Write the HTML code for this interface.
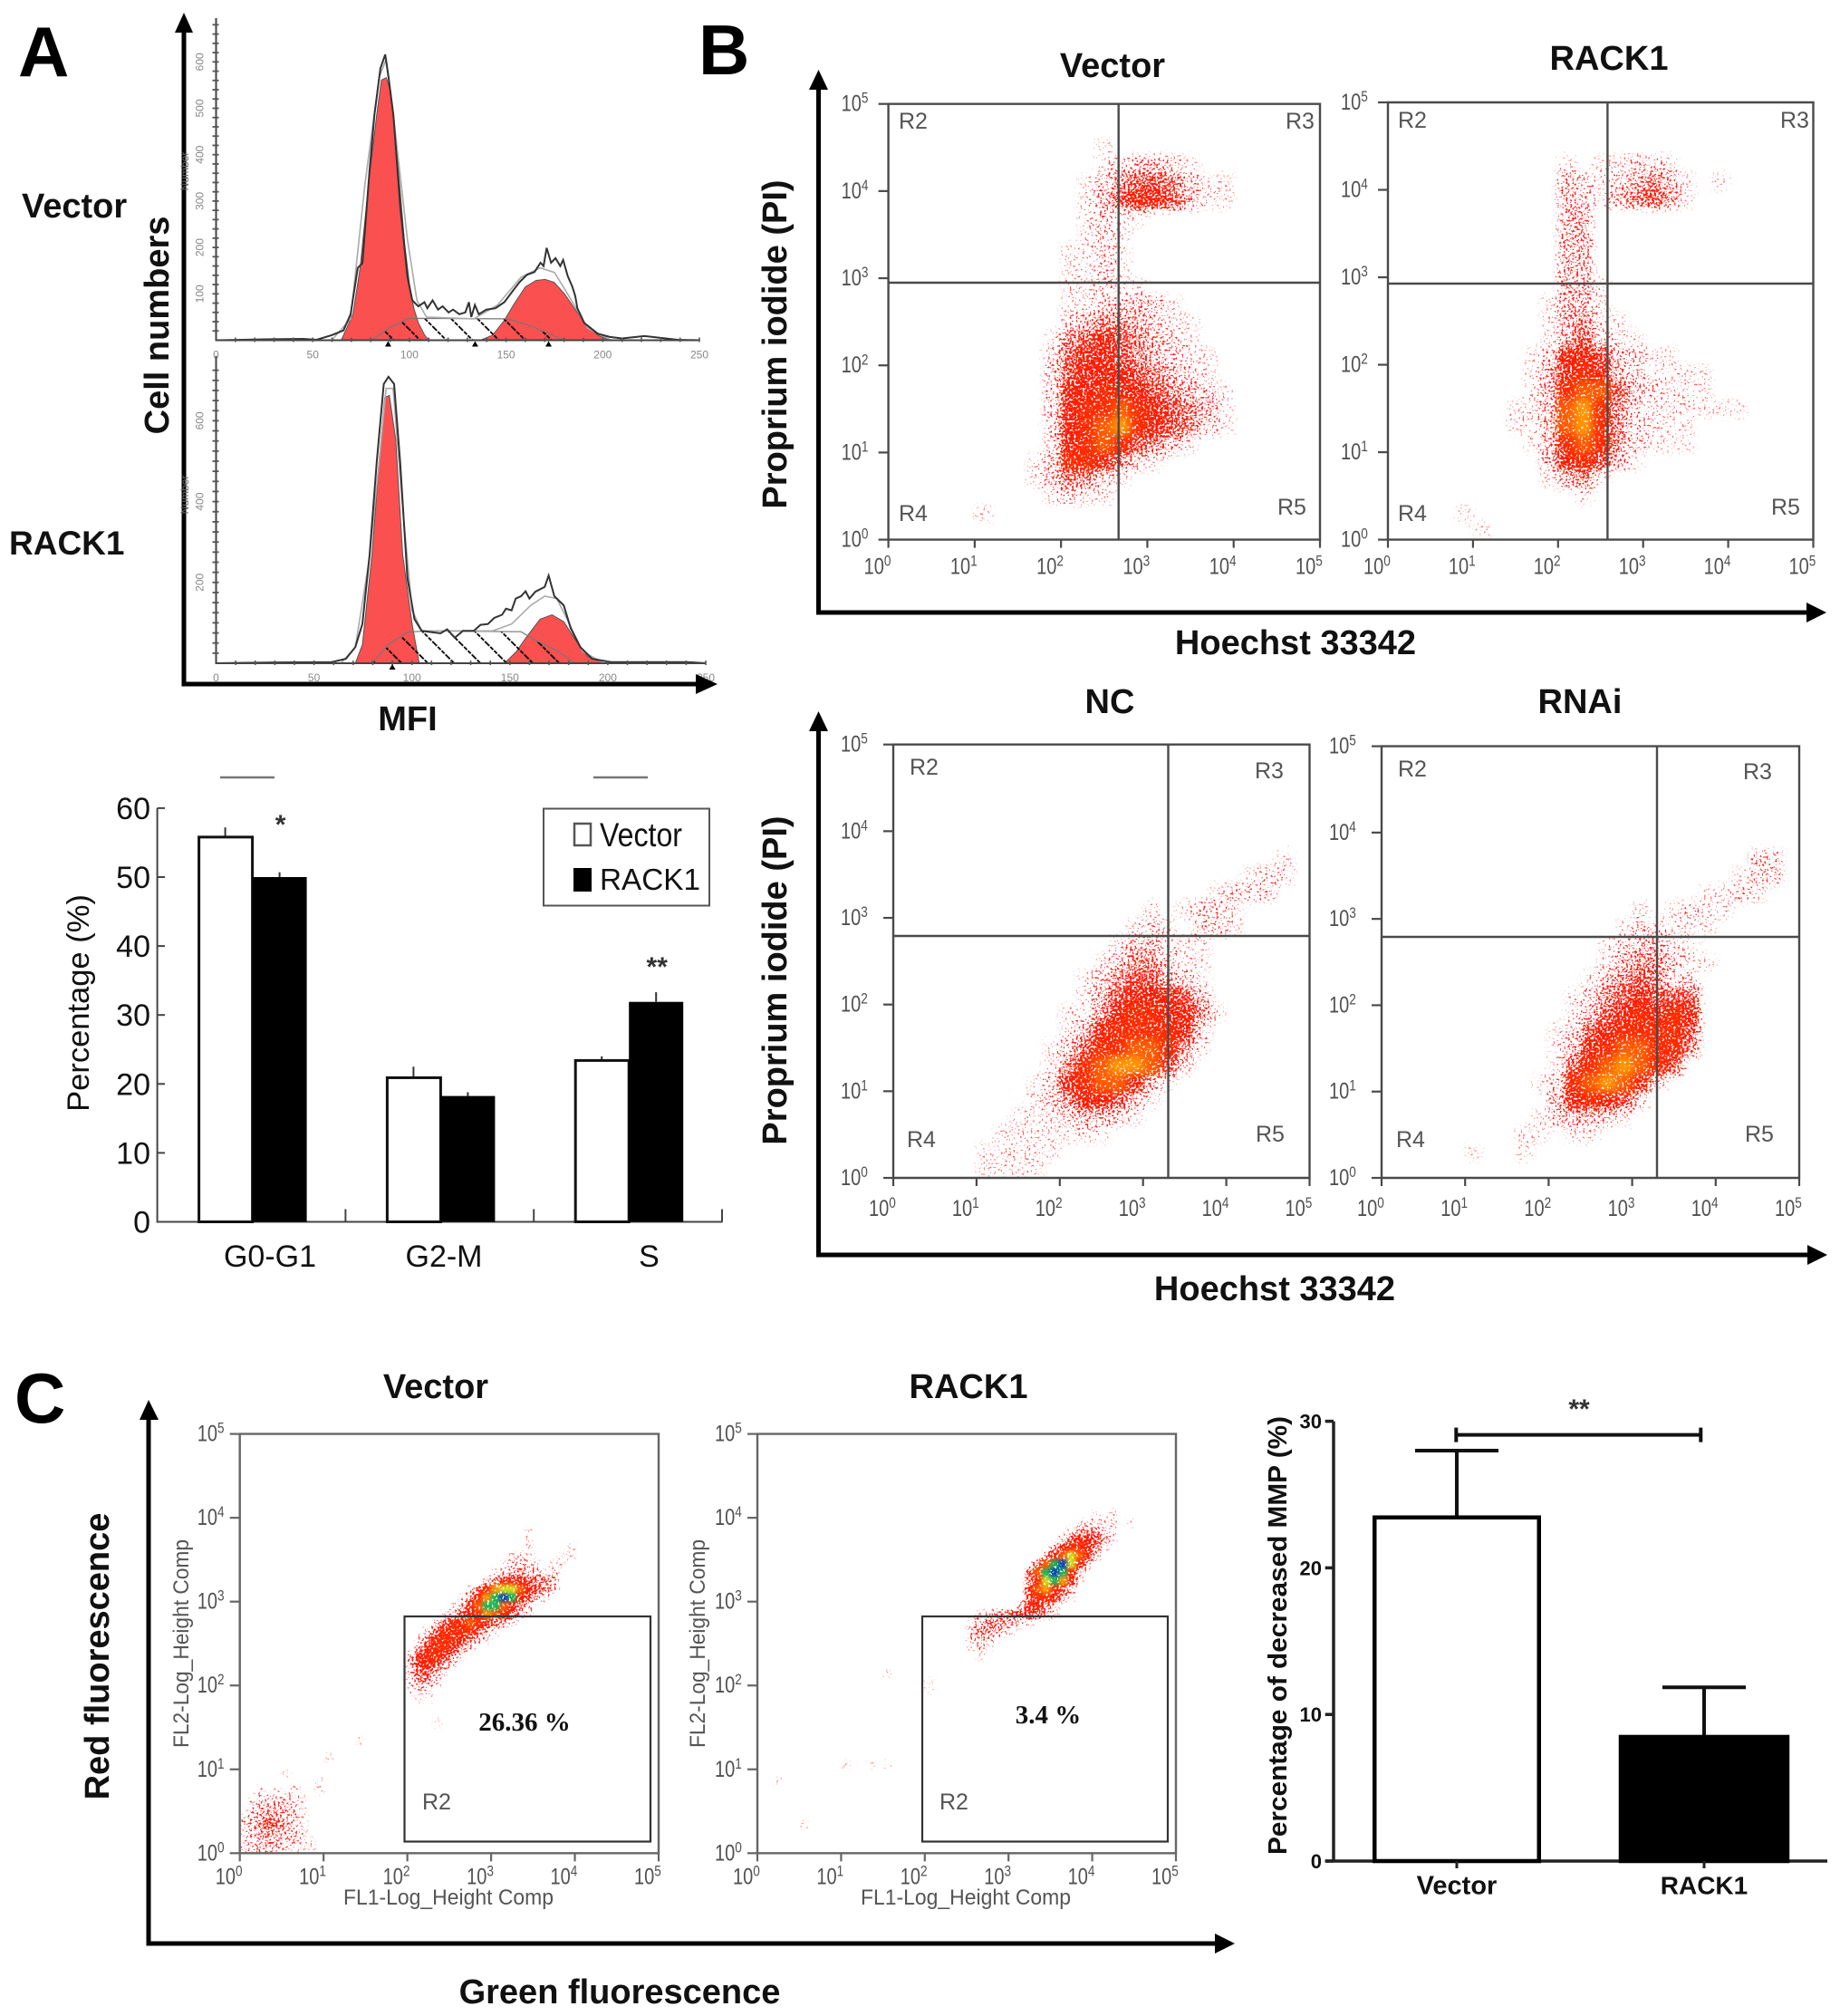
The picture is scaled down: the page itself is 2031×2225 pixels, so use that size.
<!DOCTYPE html>
<html lang="en">
<head>
<meta charset="utf-8">
<title>RACK1 cell cycle, apoptosis and MMP figure</title>
<style>
html,body{margin:0;padding:0;background:#fff}
svg{display:block}
text{font-family:"Liberation Sans",sans-serif;fill:#111}
.bold{font-weight:700}
.head{font-weight:700;font-size:38px}
.panel{font-weight:700;font-size:78px;fill:#000}
.gate{font-size:25px;fill:#555}
.plotline{stroke:#4a4a4a;stroke-width:2.4;fill:none}
.arrow{stroke:#000;stroke-width:5;fill:none}
</style>
</head>
<body>
<svg id="figure" xmlns="http://www.w3.org/2000/svg" width="2031" height="2225" viewBox="0 0 2031 2225">
<defs>
  <pattern id="hatch" width="20.5" height="20.5" patternUnits="userSpaceOnUse" patternTransform="rotate(-45)">
    <line x1="0" y1="0" x2="0" y2="20.5" stroke="#000" stroke-width="3.6" stroke-dasharray="4.5 1.5"/>
  </pattern>
  <filter id="stippleB" x="-15%" y="-15%" width="130%" height="130%" color-interpolation-filters="sRGB">
    <feGaussianBlur in="SourceGraphic" stdDeviation="4.5" result="b"/>
    <feTurbulence type="fractalNoise" baseFrequency="0.42" numOctaves="2" seed="4" result="t"/>
    <feColorMatrix in="t" type="matrix" values="0 0 0 0 1 0 0 0 0 1 0 0 0 0 1 2.6 0 0 0 -0.8" result="na"/>
    <feComposite in="b" in2="na" operator="arithmetic" k1="0" k2="1" k3="1" k4="-1" result="m"/>
    <feComponentTransfer in="m" result="mask"><feFuncA type="linear" slope="5"/></feComponentTransfer>
    <feComponentTransfer in="b" result="col"><feFuncA type="linear" slope="30"/></feComponentTransfer>
    <feComposite in="col" in2="mask" operator="in"/>
  </filter>
  <filter id="stippleC" x="-15%" y="-15%" width="130%" height="130%" color-interpolation-filters="sRGB">
    <feGaussianBlur in="SourceGraphic" stdDeviation="2.2" result="b"/>
    <feTurbulence type="fractalNoise" baseFrequency="0.42" numOctaves="2" seed="9" result="t"/>
    <feColorMatrix in="t" type="matrix" values="0 0 0 0 1 0 0 0 0 1 0 0 0 0 1 2.6 0 0 0 -0.8" result="na"/>
    <feComposite in="b" in2="na" operator="arithmetic" k1="0" k2="1" k3="1" k4="-1" result="m"/>
    <feComponentTransfer in="m" result="mask"><feFuncA type="linear" slope="5"/></feComponentTransfer>
    <feComponentTransfer in="b" result="col"><feFuncA type="linear" slope="30"/></feComponentTransfer>
    <feComposite in="col" in2="mask" operator="in"/>
  </filter>
</defs>

<!-- PANEL A -->
<text class="panel" x="20" y="84">A</text>
<text class="bold" x="24" y="240" font-size="38">Vector</text>
<text class="bold" x="10" y="612" font-size="37">RACK1</text>
<text class="head" transform="translate(186,359) rotate(-90)" text-anchor="middle">Cell numbers</text>
<text class="bold" x="450" y="806" font-size="38" text-anchor="middle">MFI</text>
<g id="hist1"></g>
<g id="hist2"></g>
<g>
  <path class="arrow" d="M203 30V755H775"/>
  <path d="M203 14L193 36H213Z M792 755L768 744V766Z" fill="#000"/>
  <text transform="translate(208,189) rotate(-90)" font-size="12" text-anchor="middle" style="fill:#666">Number</text>
  <text transform="translate(208,546) rotate(-90)" font-size="12" text-anchor="middle" style="fill:#666">Number</text>
</g>

<g id="barsA"></g>
<g>
  <rect x="600" y="892.5" width="183" height="107" fill="#fff" stroke="#555" stroke-width="2"/>
  <rect x="634" y="909" width="18" height="24" fill="#fff" stroke="#555" stroke-width="2.5"/>
  <rect x="633" y="958" width="20" height="26" fill="#000"/>
  <text x="662" y="934" font-size="37" textLength="91" lengthAdjust="spacingAndGlyphs">Vector</text>
  <text x="662" y="982" font-size="33" textLength="111" lengthAdjust="spacingAndGlyphs">RACK1</text>
</g>

<!-- PANEL B -->
<text class="panel" x="771" y="82">B</text>
<text class="head" x="1228" y="85" text-anchor="middle">Vector</text>
<text class="head" x="1776" y="77" text-anchor="middle">RACK1</text>
<text class="head" x="1225" y="787" text-anchor="middle">NC</text>
<text class="head" x="1744" y="787" text-anchor="middle">RNAi</text>
<text class="head" transform="translate(868,380) rotate(-90)" text-anchor="middle">Proprium iodide (PI)</text>
<text class="head" transform="translate(868,1082) rotate(-90)" text-anchor="middle">Proprium iodide (PI)</text>
<text class="head" x="1430" y="722" text-anchor="middle">Hoechst 33342</text>
<text class="head" x="1407" y="1435" text-anchor="middle">Hoechst 33342</text>
<g>
  <path class="arrow" d="M903.5 95V676H2000"/>
  <path d="M903.5 77L893 99H914Z M2016 676L1994 665V687Z" fill="#000"/>
  <path class="arrow" d="M903.5 803V1385H2000"/>
  <path d="M903.5 785L893 807H914Z M2017 1385L1995 1374V1396Z" fill="#000"/>
</g>

<g id="plotBVector"></g>
<g>
  <path class="plotline" d="M980.6 312H1457M1234.7 114.7V595.6"/>
  <text class="gate" x="992" y="142">R2</text>
  <text class="gate" x="1419" y="142">R3</text>
  <text class="gate" x="992" y="575">R4</text>
  <text class="gate" x="1410" y="568">R5</text>
</g>
<g id="plotBRack1"></g>
<g>
  <path class="plotline" d="M1532 313H2001.5M1774.4 113V595.6"/>
  <text class="gate" x="1543" y="141">R2</text>
  <text class="gate" x="1965" y="141">R3</text>
  <text class="gate" x="1543" y="575">R4</text>
  <text class="gate" x="1955" y="568">R5</text>
</g>
<g id="plotBNC"></g>
<g>
  <path class="plotline" d="M986 1033H1445.5M1289.5 821.7V1300"/>
  <text class="gate" x="1004" y="855">R2</text>
  <text class="gate" x="1385" y="859">R3</text>
  <text class="gate" x="1001" y="1266">R4</text>
  <text class="gate" x="1386" y="1260">R5</text>
</g>
<g id="plotBRNAi"></g>
<g>
  <path class="plotline" d="M1525 1034H1986M1829 823.6V1300"/>
  <text class="gate" x="1543" y="857">R2</text>
  <text class="gate" x="1924" y="860">R3</text>
  <text class="gate" x="1541" y="1266">R4</text>
  <text class="gate" x="1926" y="1260">R5</text>
</g>

<!-- PANEL C -->
<text class="panel" x="16" y="1570">C</text>
<text class="head" x="481" y="1543" text-anchor="middle">Vector</text>
<text class="head" x="1069" y="1543" text-anchor="middle">RACK1</text>
<text class="head" transform="translate(120,1828) rotate(-90)" text-anchor="middle">Red fluorescence</text>
<text class="head" x="684" y="2211" text-anchor="middle">Green fluorescence</text>
<g>
  <path class="arrow" d="M164 1562V2145H1345"/>
  <path d="M164 1545L154 1567H175Z M1363 2145L1341 2134V2156Z" fill="#000"/>
</g>
<g id="plotCVector"></g>
<g>
  <rect x="446.5" y="1784" width="271.5" height="248.5" fill="none" stroke="#333" stroke-width="2.2"/>
  <text class="gate" x="466" y="1997">R2</text>
  <text x="579" y="1910" font-size="29" text-anchor="middle" style="font-family:'Liberation Serif',serif;font-weight:700">26.36 %</text>
  <text transform="translate(208,1814) rotate(-90)" font-size="24" style="fill:#555" text-anchor="middle" textLength="230" lengthAdjust="spacingAndGlyphs">FL2-Log_Height Comp</text>
  <text x="495" y="2102" font-size="24" style="fill:#555" text-anchor="middle" textLength="232" lengthAdjust="spacingAndGlyphs">FL1-Log_Height Comp</text>
</g>
<g id="plotCRack1"></g>
<g>
  <rect x="1018" y="1784" width="271" height="248.5" fill="none" stroke="#333" stroke-width="2.2"/>
  <text class="gate" x="1037" y="1997">R2</text>
  <text x="1157" y="1902" font-size="29" text-anchor="middle" style="font-family:'Liberation Serif',serif;font-weight:700">3.4 %</text>
  <text transform="translate(778,1814) rotate(-90)" font-size="24" style="fill:#555" text-anchor="middle" textLength="230" lengthAdjust="spacingAndGlyphs">FL2-Log_Height Comp</text>
  <text x="1066" y="2102" font-size="24" style="fill:#555" text-anchor="middle" textLength="232" lengthAdjust="spacingAndGlyphs">FL1-Log_Height Comp</text>
</g>

<g id="barsC"></g>
<text class="bold" transform="translate(1420,1805) rotate(-90)" font-size="29" text-anchor="middle" textLength="484" lengthAdjust="spacingAndGlyphs">Percentage of decreased MMP  (%)</text>
</svg>

<script>
/* ---------- Panel A histograms: [MFI, cell count] ---------- */
const hist1Outline = [[0,0],[25,2],[45,3],[52,1],[59.8,11],[65.9,21],[69.6,56],[73.3,156],[75.7,166],[79.4,366],[81.9,486],[85,586],[87.5,616],[89.2,566],[91.7,486],[95.3,286],[99,136],[101.5,86],[104.6,73],[107.8,82],[109.3,69],[112,86],[114.8,66],[117.2,73],[120.3,60],[122.6,66],[125.8,56],[128.9,60],[130.8,82],[132,50],[133.9,76],[135.9,56],[139.8,66],[144.5,69],[149.1,82],[153.8,108],[156.9,125],[160.8,141],[164.7,147],[167.8,167],[169.4,160],[171,199],[173.3,167],[175.6,177],[178,160],[179.5,173],[181.9,138],[184.3,115],[185.8,95],[186.9,69],[190.5,37],[197.5,14],[203.7,7],[210,4],[221.6,9],[238.7,1],[250,0]];
const hist1G1 = [[64.7,0],[70.8,56],[74.5,156],[79.4,356],[83.1,486],[85.5,561],[88,566],[90.4,536],[94.1,376],[97.6,206],[100,122],[102.3,69],[104.7,37],[107.8,12],[110,0]];
const hist1G2 = [[136.7,0],[143,11],[149.1,43],[153.8,76],[160,115],[165.5,129],[170.2,131],[174.9,125],[180.4,99],[185.8,66],[191.3,34],[197.5,11],[203.7,0]];
const hist1S = [[80.4,0],[89.7,27],[99.1,46],[104.7,47],[149.1,46],[153.8,43],[163.2,30],[175.7,8],[180.4,0]];
const hist1Model = [[59.8,0],[69.6,46],[77,336],[84.3,566],[88,606],[91.7,486],[99,216],[103.9,86],[108.8,50],[133.3,46],[145.6,76],[157.8,136],[167.6,156],[175,146],[182.4,96],[192.2,26],[204.4,0]];
const hist1YLabels = [100,200,300,400,500,600];
const hist1Markers = [89,134,172];
const hist2Outline = [[0,0],[30,2],[59,3],[66.3,11],[71.1,40],[74.7,97],[78.4,269],[82,497],[85.6,691],[88,709],[90.9,691],[94,497],[97.7,211],[101.3,109],[105,80],[114.6,74],[118,84],[121.9,63],[126,80],[131.6,80],[135,95],[138.8,97],[142,112],[146,120],[148,135],[150.9,131],[153,160],[155.7,166],[158,178],[160,160],[163,177],[167.8,189],[169.8,217],[172.7,166],[177.5,143],[181.1,86],[186,40],[192,11],[201.7,3],[240.4,3],[250,0]];
const hist2G1 = [[71.1,0],[74.7,46],[79.6,269],[83.2,497],[86.1,657],[88.5,663],[91.7,554],[95.3,269],[100.1,97],[103.7,0]];
const hist2G2 = [[147.3,0],[153.3,29],[158.2,63],[165.4,109],[171.5,120],[177.5,103],[183.6,57],[189.6,17],[198.1,0]];
const hist2S = [[79.6,0],[88,46],[97.7,77],[107.4,80],[155.7,78],[163,57],[172.7,34],[183.6,0]];
const hist2Model = [[63.8,0],[71.1,40],[78.4,263],[83.2,497],[86.8,680],[90.4,680],[95.3,383],[100.1,131],[105,80],[141.2,80],[150.9,97],[160.6,143],[167.8,166],[173.9,160],[179.9,103],[187.2,29],[198.1,0]];
const hist2YLabels = [200,400,600];
const hist2Markers = [90];
const histXLabels = [0,50,100,150,200,250];

/* ---------- Panel A bars ---------- */
const cycleCategories = ['G0-G1','G2-M','S'];
const cycleVector = [55.8,20.9,23.4];
const cycleRack1 = [50,18.25,31.9];
const cycleVectorErr = [1.4,1.6,0.6];
const cycleRack1Err = [0.7,0.55,1.4];
const cycleYTicks = [0,10,20,30,40,50,60];
const cycleStars = ['*','','**'];

/* ---------- Panel C bars ---------- */
const mmpCategories = ['Vector','RACK1'];
const mmpValues = [23.44,8.47];
const mmpErrors = [4.56,3.38];
const mmpYTicks = [0,10,20,30];
const mmpBracketValue = [29.07];

/* ---------- Flow plots: hand-estimated event density.
   Each row is [first column, levels]; level 0-9 then a,b,c for the hottest core. ---------- */
const decadeLabels = [0,1,2,3,4,5];
const densityBVector = [[],[],[12,"1"],[12,"123321"],[11,"124554211"],[11,"135665311"],[11,"1211"],[11,"121"],[10,"1121"],[10,"1121"],[10,"11211"],[10,"1122321"],[10,"23443211"],[9,"145654321"],[9,"2566543211"],[9,"2566654321"],[9,"26676654321"],[9,"26778765431"],[9,"26789765421"],[9,"267875431"],[8,"12776421"],[8,"134421"],[9,"1211"],[5,"1"],[]];
const densityBRack1 = [[],[],[],[10,"1.11221"],[10,"32123431.1"],[10,"32134541"],[10,"33"],[10,"33"],[10,"33"],[10,"33"],[10,"331"],[9,"1331"],[9,"13411"],[9,"135211"],[8,"126653211"],[8,"13676321111"],[8,"13788532111"],[7,"11389742111111"],[7,"11389742111"],[8,"1378742111"],[9,"367531"],[9,"1341"],[11,"1"],[4,"1"],[5,"1"]];
const densityBNC = [[],[],[],[],[],[],[23,"1"],[21,"122"],[19,"1222"],[15,"1.1221"],[14,"121.221"],[13,"133111"],[12,"1244211"],[11,"12455321"],[11,"13566653"],[10,"1146776641"],[10,"136777762"],[9,"1257788741"],[9,"147899852"],[8,"126788631"],[8,"12466531"],[7,"11123321"],[6,"1111111"],[5,"11111"],[5,"1111"]];
const densityBRNAi = [[],[],[],[],[],[],[22,"22"],[21,"122"],[19,"1121"],[15,"1.1211"],[14,"122111"],[13,"123311"],[13,"1344211"],[12,"1345422"],[11,"12456555"],[11,"13567676"],[10,"125677775"],[10,"136788774"],[10,"15789875"],[9,"12789862"],[10,"367652"],[9,"123321"],[8,"11.11"],[5,"1..1"],[]];
const densityCVector = [[34,"1"],[34,"1"],[34,"1....1"],[32,"111...11"],[31,"12221.11"],[30,"12343222"],[29,"246665443"],[27,"1579aa86542"],[26,"1479bcb6531"],[25,"1368bb8642"],[24,"13567987531"],[23,"2577876431"],[22,"257777531"],[21,"257776421"],[21,"4677642"],[20,"3677631"],[20,"366531"],[20,"35531"],[20,"2432"],[20,"221"],[21,"11"],[],[],[23,"1"],[],[14,"1"],[],[10,"1"],[],[5,"1"],[9,"1"],[2,"1.1.2..1"],[1,"1222221"],[1,"2333321"],[0,"13343321"],[0,"23454321"],[0,"13343322"],[0,"123332211"],[0,"223222111"]];
const densityCRack1 = [[40,"1.1"],[38,"11211.1"],[37,"134321"],[36,"2566531"],[35,"3677641"],[34,"368a862"],[33,"58bca62"],[32,"58bcb73"],[32,"47ab962"],[32,"689752"],[32,"577631"],[31,"36642"],[26,"1234555531"],[25,"13444321"],[25,"244321"],[25,"2321"],[25,"121"],[26,"1"],[],[15,"1"],[20,"1"],[20,"1"],[],[],[],[],[],[],[],[],[10,"1..1.1"],[],[2,"1"],[],[],[],[],[5,"1"]];

/* ---------- helpers ---------- */
const NS = 'http://www.w3.org/2000/svg';
function make(tag, attrs, parent, text) {
  const el = document.createElementNS(NS, tag);
  for (const k in attrs) el.setAttribute(k, attrs[k]);
  if (text !== undefined) el.textContent = text;
  parent.appendChild(el);
  return el;
}
const levelColor = ['none','#ff2424','#ff2424','#ff2222','#ff1e14','#ff1c0c','#ff1a00','#ff2a00','#ff5c00','#ff9800','#d4dc10','#18b858','#0c3cc0'];
const levelAlpha = [0,0.15,0.26,0.38,0.52,0.67,0.84,0.96,1,1,1,1,1];

function drawHistogram(parent, x, y, yTop, xEnd, outline, g1, g2, s, model, yLabels, markers, yMinor, yMax) {
  const pts = a => a.map(p => x(p[0]).toFixed(1) + ',' + y(p[1]).toFixed(1)).join(' ');
  const red1 = make('polygon', {points: pts(g1), fill: '#fa5050', stroke: '#555', 'stroke-width': 1}, parent);
  
  
  const red2 = make('polygon', {points: pts(g2), fill: '#fa5050', stroke: '#555', 'stroke-width': 1}, parent);
  
  
  const sArea = make('polygon', {points: pts(s), fill: 'url(#hatch)', stroke: '#777', 'stroke-width': 1.2}, parent);
  
  
  const fit = make('polyline', {points: pts(model), fill: 'none', stroke: '#aaa', 'stroke-width': 1.6}, parent);
  
  
  const line = make('polyline', {points: pts(outline), fill: 'none', stroke: '#333', 'stroke-width': 2}, parent);
  
  
  const axes = make('path', {d: 'M' + x(0) + ' ' + yTop + 'V' + y(0) + 'H' + xEnd, fill: 'none', stroke: '#444', 'stroke-width': 2}, parent);
  
  
  for (let v = yMinor; v <= yMax; v += yMinor) {
    const t = make('line', {x1: x(0) - 4, x2: x(0) + 3, y1: y(v), y2: y(v), stroke: '#555', 'stroke-width': 1.8}, parent);
    
    
  }
  for (let v = 10; v <= 250; v += 10) {
    const t = make('line', {x1: x(v), x2: x(v), y1: y(0) - 3, y2: y(0) + 2, stroke: '#555', 'stroke-width': 1.6}, parent);
    
    
  }
  markers.forEach(v => {
    const m = make('path', {d: 'M' + x(v) + ' ' + (y(0) + 1) + 'l-3.5 6h7z', fill: '#000'}, parent);
    
    
  });
  yLabels.forEach(v => {
    const l = make('text', {transform: 'translate(' + (x(0) - 14) + ',' + y(v) + ') rotate(-90)', 'font-size': 12, 'text-anchor': 'middle', style: 'fill:#888'}, parent, v);
    
    
  });
  histXLabels.forEach(v => {
    const l = make('text', {x: x(v), y: y(0) + 20, 'font-size': 12, 'text-anchor': 'middle', style: 'fill:#888'}, parent, v);
    
    
  });
}

function powerLabel(parent, px, py, n) {
  const t = make('text', {transform: 'translate(' + px + ',' + py + ') scale(.8,1)', 'font-size': 25, style: 'fill:#505050'}, parent, '10');
  
  
  make('tspan', {dy: -9, 'font-size': 17, style: 'fill:#505050'}, t, n);
}

function drawFlow(id, box, rows, step, topLog, filterId, labelDX, labelDY, stroke) {
  const g = document.getElementById(id);
  const x = v => box.left + v * (box.right - box.left) / 5;
  const y = v => box.bottom - v * (box.bottom - box.top) / 5;
  const clipId = id + 'Clip';
  const clip = make('clipPath', {id: clipId}, g);
  make('rect', {x: box.left, y: box.top, width: box.right - box.left, height: box.bottom - box.top}, clip);
  const clipGroup = make('g', {'clip-path': 'url(#' + clipId + ')'}, g);
  const cloud = make('g', {filter: 'url(#' + filterId + ')'}, clipGroup);
  
  
  rows.forEach((row, r) => {
    const [start = 0, levels = ''] = row;
    [...levels].forEach((ch, i) => {
      const level = parseInt(ch, 36);
      if (!level) return;
      const c = start + i;
      const cell = make('rect', {
        x: x(c * step), y: y(topLog - r * step),
        width: x((c + 1) * step) - x(c * step) + 0.5,
        height: y(topLog - (r + 1) * step) - y(topLog - r * step) + 0.5,
        fill: levelColor[level], 'fill-opacity': levelAlpha[level]
      }, cloud);
      
      
    });
  });
  const frame = make('path', {
    d: 'M' + box.left + ' ' + box.top + 'H' + box.right + 'V' + box.bottom + 'H' + box.left + 'Z',
    fill: 'none', stroke: stroke, 'stroke-width': 2.4
  }, g);
  
  
  decadeLabels.forEach(n => {
    const tx = make('line', {x1: x(n), x2: x(n), y1: box.bottom, y2: box.bottom + 9, stroke: stroke, 'stroke-width': 2.2}, g);
    
    
    const ty = make('line', {x1: box.left - 11, x2: box.left, y1: y(n), y2: y(n), stroke: stroke, 'stroke-width': 2.2}, g);
    
    
    powerLabel(g, x(n) - 27, box.bottom + labelDY, n);
    powerLabel(g, box.left - labelDX, y(n) + 8, n);
  });
}

/* ---------- draw ---------- */
const h1 = document.getElementById('hist1');
drawHistogram(h1, v => 238.5 + 2.134 * v, c => 375.5 - 0.512 * c, 20, 772, hist1Outline, hist1G1, hist1G2, hist1S, hist1Model, hist1YLabels, hist1Markers, 20, 680);
const h2 = document.getElementById('hist2');
drawHistogram(h2, v => 238.5 + 2.162 * v, c => 732 - 0.446 * c, 393, 779, hist2Outline, hist2G1, hist2G2, hist2S, hist2Model, hist2YLabels, hist2Markers, 25, 725);

(function drawCycleBars() {
  const g = document.getElementById('barsA');
  const y = v => 1348.5 - 7.61 * v;
  const band = i => 173.6 + 207.8 * i;
  const barW = 60;
  const starBaselines = [920, 0, 1077];
  const axis = make('path', {d: 'M173.6 ' + y(60) + 'V' + y(0) + 'H797.6', fill: 'none', stroke: '#444', 'stroke-width': 2}, g);
  
  
  cycleYTicks.forEach(v => {
    const t = make('line', {x1: 173.6, x2: 182, y1: y(v), y2: y(v), stroke: '#444', 'stroke-width': 2}, g);
    
    
    const l = make('text', {x: 166, y: y(v) + 12, 'font-size': 34, 'text-anchor': 'end'}, g, v);
    
    
  });
  const title = make('text', {transform: 'translate(98,1107) rotate(-90)', 'font-size': 34.5, 'text-anchor': 'middle'}, g, 'Percentage (%)');
  
  
  cycleCategories.forEach((cat, i) => {
    const x0 = band(i) + 45;
    const e1 = make('line', {x1: x0 + 30, x2: x0 + 30, y1: y(cycleVector[i]), y2: y(cycleVector[i] + cycleVectorErr[i]), stroke: '#333', 'stroke-width': 2}, g);
    
    
    const e2 = make('line', {x1: x0 + 90, x2: x0 + 90, y1: y(cycleRack1[i]), y2: y(cycleRack1[i] + cycleRack1Err[i]), stroke: '#333', 'stroke-width': 2}, g);
    
    
    const b1 = make('rect', {x: x0 + 1, y: y(cycleVector[i]), width: barW - 1, height: y(0) - y(cycleVector[i]), fill: '#fff', stroke: '#111', 'stroke-width': 3}, g);
    
    
    const b2 = make('rect', {x: x0 + barW, y: y(cycleRack1[i]), width: barW, height: y(0) - y(cycleRack1[i]), fill: '#000'}, g);
    
    
    const t = make('line', {x1: band(i + 1), x2: band(i + 1), y1: y(0), y2: y(0) - 14, stroke: '#444', 'stroke-width': 2}, g);
    
    
    if (cycleStars[i]) {
      const s = make('text', {x: x0 + 91, y: starBaselines[i], 'font-size': 30, 'font-weight': 700, 'text-anchor': 'middle', style: 'fill:#333'}, g, cycleStars[i]);
      
      
    }
  });
  const labelX = [298, 490, 716.5];
  cycleCategories.forEach((cat, i) => {
    const l = make('text', {x: labelX[i], y: 1398, 'font-size': 34, 'text-anchor': 'middle'}, g, cat);
    
    
  });
  const top1 = make('line', {x1: 243, x2: 303, y1: 858, y2: 858, stroke: '#777', 'stroke-width': 2.4}, g);
  
  
  const top2 = make('line', {x1: 655, x2: 715, y1: 858, y2: 858, stroke: '#777', 'stroke-width': 2.4}, g);
  
  
})();

drawFlow('plotBVector', {left: 980.6, right: 1457, top: 114.7, bottom: 595.6}, densityBVector, 0.2, 5, 'stippleB', 52, 38, '#4a4a4a');
drawFlow('plotBRack1', {left: 1532, right: 2001.5, top: 113, bottom: 595.6}, densityBRack1, 0.2, 5, 'stippleB', 52, 38, '#4a4a4a');
drawFlow('plotBNC', {left: 986, right: 1445.5, top: 821.7, bottom: 1300}, densityBNC, 0.2, 5, 'stippleB', 58, 42, '#4a4a4a');
drawFlow('plotBRNAi', {left: 1525, right: 1986, top: 823.6, bottom: 1300}, densityBRNAi, 0.2, 5, 'stippleB', 58, 42, '#4a4a4a');
drawFlow('plotCVector', {left: 264.7, right: 727, top: 1582.6, bottom: 2045.3}, densityCVector, 0.1, 3.9, 'stippleC', 47, 34, '#666');
drawFlow('plotCRack1', {left: 836, right: 1298, top: 1582.6, bottom: 2045.3}, densityCRack1, 0.1, 4.1, 'stippleC', 47, 34, '#666');

(function drawMmpBars() {
  const g = document.getElementById('barsC');
  const y = v => 2054 - 16.18 * v;
  const centers = [1608, 1881];
  const widths = [181.5, 184];
  const axes = make('path', {d: 'M1472 ' + y(30) + 'V' + y(0) + 'M1462.7 ' + y(0) + 'H2017', fill: 'none', stroke: '#222', 'stroke-width': 3.5}, g);
  
  
  mmpYTicks.forEach(v => {
    const t = make('line', {x1: 1462.7, x2: 1472, y1: y(v), y2: y(v), stroke: '#222', 'stroke-width': 3.5}, g);
    
    
    const l = make('text', {x: 1459, y: y(v) + 8, 'font-size': 22, 'font-weight': 700, 'text-anchor': 'end'}, g, v);
    
    
  });
  mmpCategories.forEach((cat, i) => {
    const cx = centers[i];
    const err = make('path', {d: 'M' + cx + ' ' + y(mmpValues[i]) + 'V' + y(mmpValues[i] + mmpErrors[i]) + 'M' + (cx - 46) + ' ' + y(mmpValues[i] + mmpErrors[i]) + 'H' + (cx + 46), fill: 'none', stroke: '#111', 'stroke-width': 4}, g);
    
    
    const bar = make('rect', {x: cx - widths[i] / 2, y: y(mmpValues[i]), width: widths[i], height: y(0) - y(mmpValues[i]), fill: i ? '#000' : '#fff', stroke: '#000', 'stroke-width': 4.5}, g);
    
    
    const t = make('line', {x1: cx, x2: cx, y1: y(0), y2: y(0) + 8, stroke: '#222', 'stroke-width': 3}, g);
    
    
    const l = make('text', {x: cx, y: 2090.5, 'font-size': i ? 28 : 29, 'font-weight': 700, 'text-anchor': 'middle'}, g, cat);
    
    
  });
  const by = y(mmpBracketValue[0]);
  const bracket = make('path', {d: 'M1607.3 ' + (by - 8) + 'V' + (by + 8) + 'M1607.3 ' + by + 'H1877.3M1877.3 ' + (by - 8) + 'V' + (by + 8), fill: 'none', stroke: '#111', 'stroke-width': 4}, g);
  
  
  const stars = make('text', {x: 1743, y: 1565, 'font-size': 30, 'font-weight': 700, 'text-anchor': 'middle', style: 'fill:#333'}, g, '**');
  
  
})();
</script>
</body>
</html>
